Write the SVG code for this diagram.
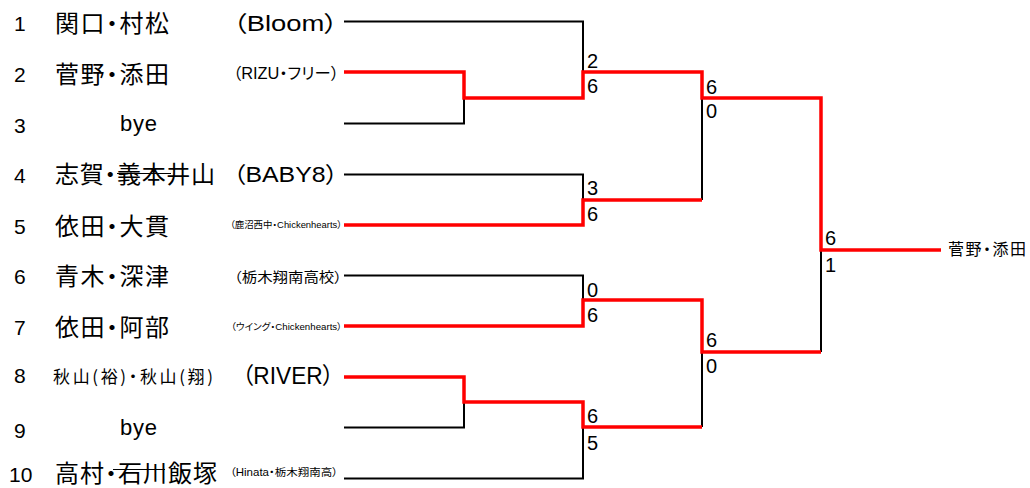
<svg xmlns="http://www.w3.org/2000/svg" width="1030" height="488" viewBox="0 0 1030 488">
<style>
.num{font-family:"Liberation Sans",Arial,sans-serif;font-size:21px;fill:#000}
.nm{font-family:"Noto Sans CJK JP","Noto Sans CJK SC",sans-serif;font-size:24px;fill:#000;font-feature-settings:"palt"}
.bye{font-family:"Liberation Sans",Arial,sans-serif;font-size:22px;fill:#000}
.tm{font-family:"Liberation Sans","Noto Sans CJK JP",sans-serif;fill:#000;text-anchor:end;font-feature-settings:"palt"}
.sc{font-family:"Liberation Sans",Arial,sans-serif;font-size:20px;fill:#000}
.bk{fill:none;stroke:#000;stroke-width:2;stroke-linejoin:miter}
.rd{fill:none;stroke:#ff0000;stroke-width:3.5;stroke-linejoin:miter;stroke-linecap:butt}
.st{stroke:#000;stroke-width:1.2}
</style>
<rect width="1030" height="488" fill="#fff"/>
<g id="connectors">
<path class="bk" d="M344,21.5H583V72"/>
<path class="bk" d="M344,123.5H464V98"/>
<path class="bk" d="M344,174.5H583V200"/>
<path class="bk" d="M702,98V200"/>
<path class="bk" d="M344,275.5H583V300"/>
<path class="bk" d="M344,427.5H464V402"/>
<path class="bk" d="M344,478.5H583V427"/>
<path class="bk" d="M702,352V427"/>
<path class="bk" d="M821,250V352"/>
<path class="rd" d="M344,72H464V98H583V72H702V98H821V250H941"/>
<path class="rd" d="M344,225H583V200H702"/>
<path class="rd" d="M344,326H583V300H702V352H821"/>
<path class="rd" d="M344,377H464V402H583V427H702"/>
</g>
<g id="p1"><text class="num" x="14" y="31">1</text><text class="nm" x="55" y="32" textLength="114">関口・村松</text><text class="tm" x="338" y="30.5" font-size="22" textLength="105" lengthAdjust="spacingAndGlyphs">（Bloom）</text></g>
<g id="p2"><text class="num" x="14" y="82">2</text><text class="nm" x="55" y="82.5" textLength="114">菅野・添田</text><text class="tm" x="339" y="78.5" font-size="16" textLength="106" lengthAdjust="spacingAndGlyphs">（RIZU・フリー）</text></g>
<g id="p3"><text class="num" x="14" y="132.5">3</text><text class="bye" x="120" y="131" textLength="37">bye</text></g>
<g id="p4"><text class="num" x="14" y="183">4</text><text class="nm" x="55" y="183" textLength="160">志賀・義本井山</text><line class="st" x1="117" y1="173.5" x2="171" y2="173.5"/><text class="tm" x="338" y="182" font-size="22" textLength="105" lengthAdjust="spacingAndGlyphs">（BABY8）</text></g>
<g id="p5"><text class="num" x="14" y="234">5</text><text class="nm" x="55" y="234.5" textLength="114">依田・大貫</text><text class="tm" x="342" y="228" font-size="9.5" textLength="112" lengthAdjust="spacingAndGlyphs">（鹿沼西中・Chickenhearts）</text></g>
<g id="p6"><text class="num" x="14" y="284">6</text><text class="nm" x="55" y="285" textLength="114">青木・深津</text><text class="tm" x="342" y="281.5" font-size="14" textLength="108" lengthAdjust="spacingAndGlyphs">（栃木翔南高校）</text></g>
<g id="p7"><text class="num" x="14" y="334.5">7</text><text class="nm" x="55" y="335.5" textLength="114">依田・阿部</text><text class="tm" x="342" y="330" font-size="9.5" textLength="111" lengthAdjust="spacingAndGlyphs">（ウイング・Chickenhearts）</text></g>
<g id="p8"><text class="num" x="14" y="382.5">8</text><text class="nm" x="53" y="382.5" style="font-size:17px" textLength="160">秋山(裕)・秋山(翔)</text><text class="tm" x="334" y="384" font-size="23" textLength="92" lengthAdjust="spacingAndGlyphs">（RIVER）</text></g>
<g id="p9"><text class="num" x="14" y="438">9</text><text class="bye" x="120" y="435" textLength="37">bye</text></g>
<g id="p10"><text class="num" x="9" y="482">10</text><text class="nm" x="55" y="482" textLength="162">高村・石川飯塚</text><line class="st" x1="113" y1="469.5" x2="165" y2="469.5"/><text class="tm" x="338" y="476" font-size="10.5" textLength="108" lengthAdjust="spacingAndGlyphs">（Hinata・栃木翔南高）</text></g>
<g id="s1"><text class="sc" x="587" y="68">2</text><text class="sc" x="587" y="93">6</text></g>
<g id="s2"><text class="sc" x="587" y="195">3</text><text class="sc" x="587" y="221">6</text></g>
<g id="s3"><text class="sc" x="587" y="296.5">0</text><text class="sc" x="587" y="322">6</text></g>
<g id="s4"><text class="sc" x="587" y="423">6</text><text class="sc" x="587" y="450">5</text></g>
<g id="s5"><text class="sc" x="706" y="94">6</text><text class="sc" x="706" y="118">0</text></g>
<g id="s6"><text class="sc" x="706" y="346.5">6</text><text class="sc" x="706" y="373">0</text></g>
<g id="s7"><text class="sc" x="825" y="245">6</text><text class="sc" x="825" y="272">1</text></g>
<g id="winner"><text class="nm" x="948" y="255" style="font-size:16px" textLength="78">菅野・添田</text></g>
</svg>
